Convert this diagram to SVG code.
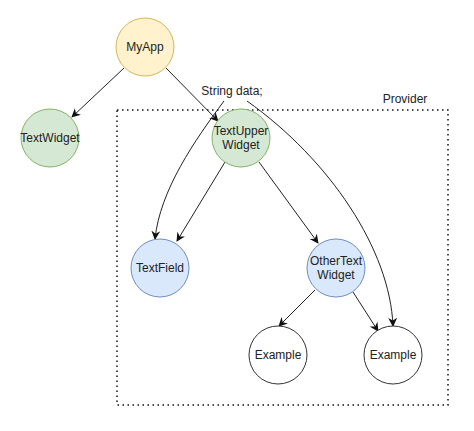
<svg xmlns="http://www.w3.org/2000/svg" width="474" height="431" viewBox="0 0 474 431">
<style>
text{font-family:"Liberation Sans",Arial,sans-serif;font-size:12px;fill:#222;text-anchor:middle}
.e{fill:none;stroke:#222;stroke-width:1}
.y{fill:#fff2cc;stroke:#d6b656}
.g{fill:#d5e8d4;stroke:#82b366}
.b{fill:#dae8fc;stroke:#6c8ebf}
.w{fill:#fff;stroke:#333}
</style>
<defs>
<marker id="a" viewBox="0 0 10 10" refX="9" refY="5" markerWidth="9" markerHeight="9" orient="auto" markerUnits="userSpaceOnUse">
<path d="M0,0 L10,5 L0,10 L3,5 z" fill="#111"/>
</marker>
</defs>
<g id="provider">
<rect x="117" y="110" width="331" height="295" fill="none" stroke="#111" stroke-width="1.5" stroke-dasharray="1.5 3.5"/>
<text x="405" y="103">Provider</text>
</g>
<g id="string-data"><text x="232" y="95">String data;</text></g>
<g id="connectors">
<path class="e" marker-end="url(#a)" d="M124,68 L72,117"/>
<path class="e" marker-end="url(#a)" d="M166,68 L218,121"/>
<path class="e" marker-end="url(#a)" d="M224,101 C195,140 160,190 155,239"/>
<path class="e" marker-end="url(#a)" d="M247,101 C330,160 390,250 393,326"/>
<path class="e" marker-end="url(#a)" d="M225,162 L177,241"/>
<path class="e" marker-end="url(#a)" d="M259,162 L318,243"/>
<path class="e" marker-end="url(#a)" d="M315,290 L279,326"/>
<path class="e" marker-end="url(#a)" d="M353,292 L378,331"/>
</g>
<g id="myapp"><circle class="y" cx="145" cy="47" r="29"/><text x="145" y="51">MyApp</text></g>
<g id="textwidget"><circle class="g" cx="50" cy="138" r="29"/><text x="50" y="142">TextWidget</text></g>
<g id="textupper"><circle class="g" cx="241" cy="138" r="29"/><text x="241" y="135">TextUpper</text><text x="241" y="149">Widget</text></g>
<g id="textfield"><circle class="b" cx="160" cy="268" r="29"/><text x="160" y="272">TextField</text></g>
<g id="othertext"><circle class="b" cx="336" cy="268" r="29"/><text x="336" y="265">OtherText</text><text x="336" y="279">Widget</text></g>
<g id="example1"><circle class="w" cx="278" cy="355" r="29"/><text x="278" y="359">Example</text></g>
<g id="example2"><circle class="w" cx="393" cy="355" r="29"/><text x="393" y="359">Example</text></g>
</svg>
